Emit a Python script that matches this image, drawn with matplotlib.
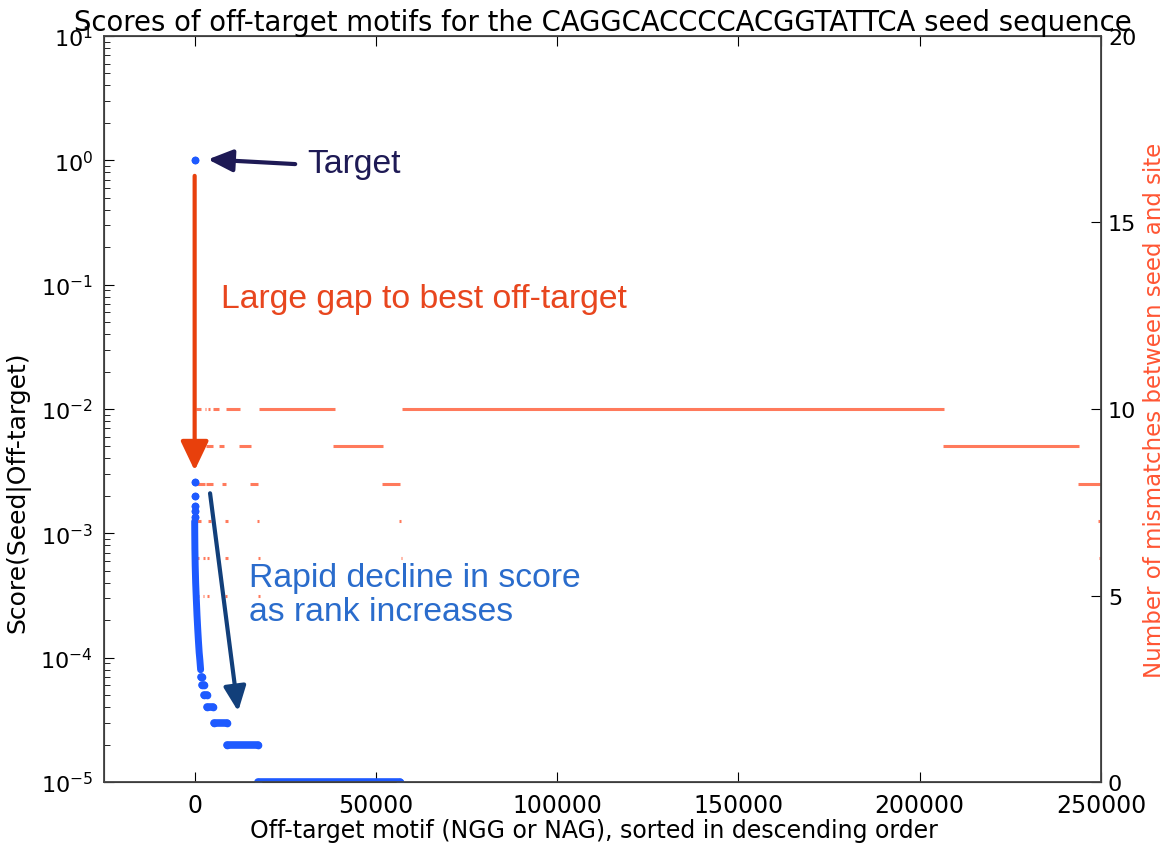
import numpy as np
import matplotlib.pyplot as plt

# === Scores (left axis), run-length: score value, first rank, last rank ===
score_val = [1.0, 2.6e-3, 2.0e-3, 1.65e-3, 1.5e-3, 1.35e-3,
             7e-5, 6e-5, 5e-5, 4e-5, 3e-5, 2e-5, 1e-5]
score_start = [0, 1, 2, 3, 4, 6,
               1701, 2101, 2601, 3501, 5201, 8801, 17501]
score_end = [0, 1, 2, 3, 5, 10,
             2100, 2600, 3500, 5200, 8800, 17500, 56700]

# dense part of the ranking (points so close they form a streak)
streak_rank = [12, 30, 70, 150, 280, 450, 650, 850, 1050, 1250, 1450, 1650]
streak_score = [1.25e-3, 1.0e-3, 7.5e-4, 5.5e-4, 4e-4, 3e-4, 2.2e-4, 1.7e-4,
                1.35e-4, 1.1e-4, 9.5e-5, 8e-5]

# === Mismatches (right axis), runs: level, first rank, last rank ===
mm_level = [10, 10, 10, 10, 10, 10, 10,
            9, 9, 9, 9, 9, 9, 9,
            8, 8, 8, 8, 8, 8,
            7, 7, 7, 7, 7, 7,
            6, 6, 6, 6, 6, 6, 6,
            5, 5, 5, 5, 5, 5,
            3, 0]
mm_start = [470, 2760, 3670, 5060, 8740, 17650, 57100,
            0, 2100, 3000, 6700, 12200, 38300, 206300,
            0, 3200, 7600, 15200, 51700, 243800,
            0, 3700, 8300, 17200, 56300, 249300,
            0, 2300, 3500, 8300, 17600, 57000, 249400,
            0, 2300, 3500, 8300, 17600, 57100,
            300, -300]
mm_end = [1850, 3220, 4330, 6710, 12410, 38620, 206600,
          1200, 2500, 5000, 8000, 15600, 51900, 243900,
          2800, 5000, 8700, 17500, 56600, 250000,
          1800, 4600, 9200, 17700, 57000, 249800,
          1300, 2800, 4000, 9200, 17900, 57300, 249700,
          1300, 2600, 4000, 9000, 17900, 57300,
          500, 300]

blue = '#1e5aff'
salmon = '#ff7a5c'

fig = plt.figure(figsize=(11.7, 8.54), dpi=100)
ax = fig.add_axes([0.0889, 0.0831, 0.8521, 0.8736])
ax2 = ax.twinx()

# red mismatch lines on the right axis
ax2.hlines(mm_level, mm_start, mm_end, colors=salmon, lw=2.2)
ax2.set_ylim(0, 20)
ax2.set_yticks([0, 5, 10, 15, 20])
ax2.tick_params(axis='y', direction='in', length=7, labelsize=16, pad=5)
ax2.set_ylabel("Number of mismatches between seed and site", color='#ff5533',
               fontsize=16.5, labelpad=5)

# blue scores on the left axis, drawn above the red
ax.set_zorder(ax2.get_zorder() + 1)
ax.patch.set_visible(False)
for v, s, e in zip(score_val, score_start, score_end):
    ax.plot([s, e], [v, v], '-o', color=blue, ms=5.5, lw=5.5, mec='none',
            solid_capstyle='round')
ax.plot(streak_rank, streak_score, '-', color=blue, lw=5,
        solid_capstyle='round', solid_joinstyle='round')

ax.set_yscale('log')
ax.set_ylim(1e-5, 1e1)
ax.set_xlim(-25000, 250000)
ax.set_xticks([0, 50000, 100000, 150000, 200000, 250000])
ax.yaxis.set_ticks_position('left')
ax.xaxis.set_ticks_position('both')
ax.tick_params(axis='both', which='major', direction='in', length=7,
               labelsize=17, pad=8)
ax.tick_params(axis='y', which='major', labelsize=16)
ax.tick_params(axis='both', which='minor', direction='in', length=4)
ax.set_xlabel("Off-target motif (NGG or NAG), sorted in descending order",
              fontsize=17)
ax.xaxis.set_label_coords(0.491, -0.048)
ax.set_ylabel("Score(Seed|Off-target)", fontsize=18)
ax.yaxis.set_label_coords(-0.074, 0.39)
ax.set_title("Scores of off-target motifs for the CAGGCACCCCACGGTATTCA seed sequence",
             fontsize=19.8, pad=3)

for sp in ax.spines.values():
    sp.set_linewidth(1.3)
    sp.set_color('#444444')

# === Annotations ===
ann_font = 'Liberation Sans'
ax.annotate("", xy=(2900, 1.02), xytext=(28500, 0.93),
            arrowprops=dict(arrowstyle='-|>,head_length=1.0,head_width=0.45',
                            color='#1e1a55', lw=3, mutation_scale=15))
ax.text(31000, 0.946, "Target", color='#1e1a55', fontsize=24.3,
        family=ann_font, va='center')

ax.annotate("", xy=(0, 3.2e-3), xytext=(0, 0.75),
            arrowprops=dict(arrowstyle='-|>,head_length=1.05,head_width=0.5',
                            color='#e8400c', lw=3, mutation_scale=17,
                            shrinkA=0, shrinkB=0))
ax.text(7300, 0.0774, "Large gap to best off-target", color='#e8461e',
        fontsize=24.3, family=ann_font, va='center')

ax.annotate("", xy=(12000, 3.7e-5), xytext=(4250, 2.1e-3),
            arrowprops=dict(arrowstyle='-|>,head_length=1.0,head_width=0.45',
                            color='#123f7a', lw=3, mutation_scale=15,
                            shrinkA=0, shrinkB=0))
ax.text(15000, 3.2e-4, "Rapid decline in score\nas rank increases",
        color='#2a6ccc', fontsize=24.3, family=ann_font, va='center',
        linespacing=1.12)

fig.savefig("out.png", dpi=100, facecolor='white')
